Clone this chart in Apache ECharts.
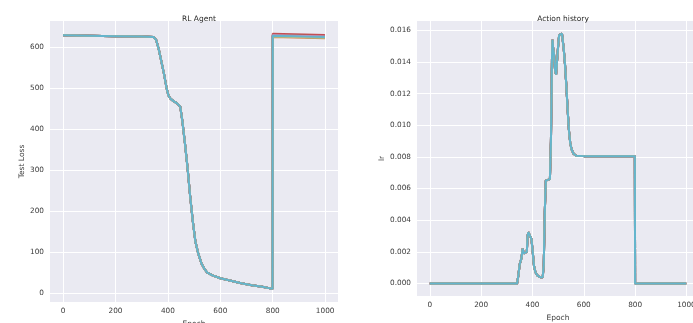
<!DOCTYPE html>
<html>
<head>
<meta charset="utf-8">
<script src="https://cdn.jsdelivr.net/npm/echarts@6/dist/echarts.min.js"></script>
<style>
  html, body { margin: 0; padding: 0; background: #ffffff; }
  #chart { width: 693px; height: 323px; }
</style>
</head>
<body>
<div id="chart"></div>
<script>
// Shared test-loss trajectory up to epoch 799 (all runs follow it closely)
const lossEpochs = [0, 100, 200, 300, 345, 355, 365, 375, 385, 395, 402, 410, 420, 435, 447,
  455, 465, 475, 485, 495, 505, 515, 528, 540, 550, 570, 600, 640, 680, 720, 760, 799];
const lossValues = [629, 628, 627, 626, 625, 618, 595, 565, 535, 500, 482, 474, 469, 463, 455,
  420, 365, 305, 235, 175, 125, 98, 72, 58, 50, 43, 36, 30, 24, 19, 15, 10];

// After the reset at epoch 800 each run sits at its own level
const restartEpochs = [800, 999];
const restartStart = [629, 625, 627, 633, 628, 630, 629, 627, 626, 628];
const restartEnd   = [626, 622, 624, 630, 625, 627, 626, 624, 623, 625];

// Learning-rate actions chosen by the agent
const lrEpochs = [0, 340, 345, 350, 357, 362, 366, 378, 381, 384, 391, 396, 401, 406, 412, 420,
  430, 440, 444, 448, 452, 468, 472, 476, 478, 481, 484, 488, 492, 497, 500, 504, 515, 519,
  522, 527, 532, 537, 542, 547, 552, 560, 570, 600, 799, 800, 999];
const lrValues = [0, 0, 0.0005, 0.0012, 0.0016, 0.0022, 0.0019, 0.002, 0.003, 0.00325, 0.0032,
  0.0028, 0.002, 0.0011, 0.0007, 0.0005, 0.0004, 0.0004, 0.0012, 0.0045, 0.0065, 0.0066, 0.009,
  0.0142, 0.0154, 0.0148, 0.0145, 0.0135, 0.0132, 0.0133, 0.015, 0.0157, 0.0158, 0.0157, 0.0148,
  0.0138, 0.0125, 0.011, 0.0097, 0.0089, 0.0085, 0.0082, 0.00808, 0.00805, 0.00805, 0, 0];

const epochTicks = [0, 200, 400, 600, 800, 1000];
const lossTicks = [0, 100, 200, 300, 400, 500, 600];
const lrTicks = [0, 0.002, 0.004, 0.006, 0.008, 0.010, 0.012, 0.014, 0.016];

const runColors = ['#4C72B0', '#DD8452', '#55A868', '#C44E52', '#8172B3',
  '#937860', '#DA8BC3', '#8C8C8C', '#CCB974', '#64B5CD'];

const FONT = 'DejaVu Sans';
const textColor = '#3a3a3a';
const LINE_W = 2;

function pairs(xs, ys) { return xs.map((x, i) => [x, ys[i]]); }

function axisCommon(ticks, fmt) {
  return {
    type: 'value',
    axisLine: { show: false },
    axisTick: { show: false, customValues: ticks },
    splitLine: { show: true, lineStyle: { color: '#ffffff', width: 1 } },
    nameTextStyle: { fontFamily: FONT, fontSize: 7.5, color: textColor },
    axisLabel: { customValues: ticks, fontFamily: FONT, fontSize: 7.3, color: textColor,
      formatter: fmt, margin: 6 }
  };
}
const intFmt = (v) => String(Math.round(v));
const lrFmt = (v) => v.toFixed(3);

// later runs are stacked on top of earlier ones
const series = [];
runColors.forEach((c, r) => {
  const pts = pairs(lossEpochs, lossValues).concat(
    pairs(restartEpochs, [restartStart[r], restartEnd[r]]));
  series.push({
    type: 'line', xAxisIndex: 0, yAxisIndex: 0, data: pts, showSymbol: false, z: 3 + r,
    lineStyle: { color: c, width: LINE_W }, itemStyle: { color: c }, silent: true, animation: false
  });
});
runColors.forEach((c, r) => {
  series.push({
    type: 'line', xAxisIndex: 1, yAxisIndex: 1, data: pairs(lrEpochs, lrValues), showSymbol: false,
    z: 3 + r,
    lineStyle: { color: c, width: LINE_W }, itemStyle: { color: c }, silent: true, animation: false
  });
});

const chart = echarts.init(document.getElementById('chart'), null, { renderer: 'canvas' });
chart.setOption({
  backgroundColor: '#ffffff',
  animation: false,
  title: [
    { text: 'RL Agent', left: 194, top: 10, textAlign: 'center',
      textStyle: { fontFamily: FONT, fontSize: 7.5, fontWeight: 'normal', color: '#262626' } },
    { text: 'Action history', left: 558, top: 10, textAlign: 'center',
      textStyle: { fontFamily: FONT, fontSize: 7.5, fontWeight: 'normal', color: '#262626' } }
  ],
  grid: [
    { left: 50, top: 21, width: 288, height: 281, backgroundColor: '#EAEAF2', show: true,
      borderWidth: 0, containLabel: false, outerBoundsMode: 'none' },
    { left: 417, top: 21, width: 282, height: 275, backgroundColor: '#EAEAF2', show: true,
      borderWidth: 0, containLabel: false, outerBoundsMode: 'none' }
  ],
  xAxis: [
    Object.assign(axisCommon(epochTicks, intFmt), { gridIndex: 0, min: -50, max: 1049,
      name: 'Epoch', nameLocation: 'middle', nameGap: 15 }),
    Object.assign(axisCommon(epochTicks, intFmt), { gridIndex: 1, min: -50, max: 1049,
      name: 'Epoch', nameLocation: 'middle', nameGap: 15 })
  ],
  yAxis: [
    Object.assign(axisCommon(lossTicks, intFmt), { gridIndex: 0, min: -22, max: 664,
      name: 'Test Loss', nameLocation: 'middle', nameGap: 22 }),
    Object.assign(axisCommon(lrTicks, lrFmt), { gridIndex: 1, min: -0.00079, max: 0.01659,
      name: 'lr', nameLocation: 'middle', nameGap: 29 })
  ],
  series: series
});
</script>
</body>
</html>
